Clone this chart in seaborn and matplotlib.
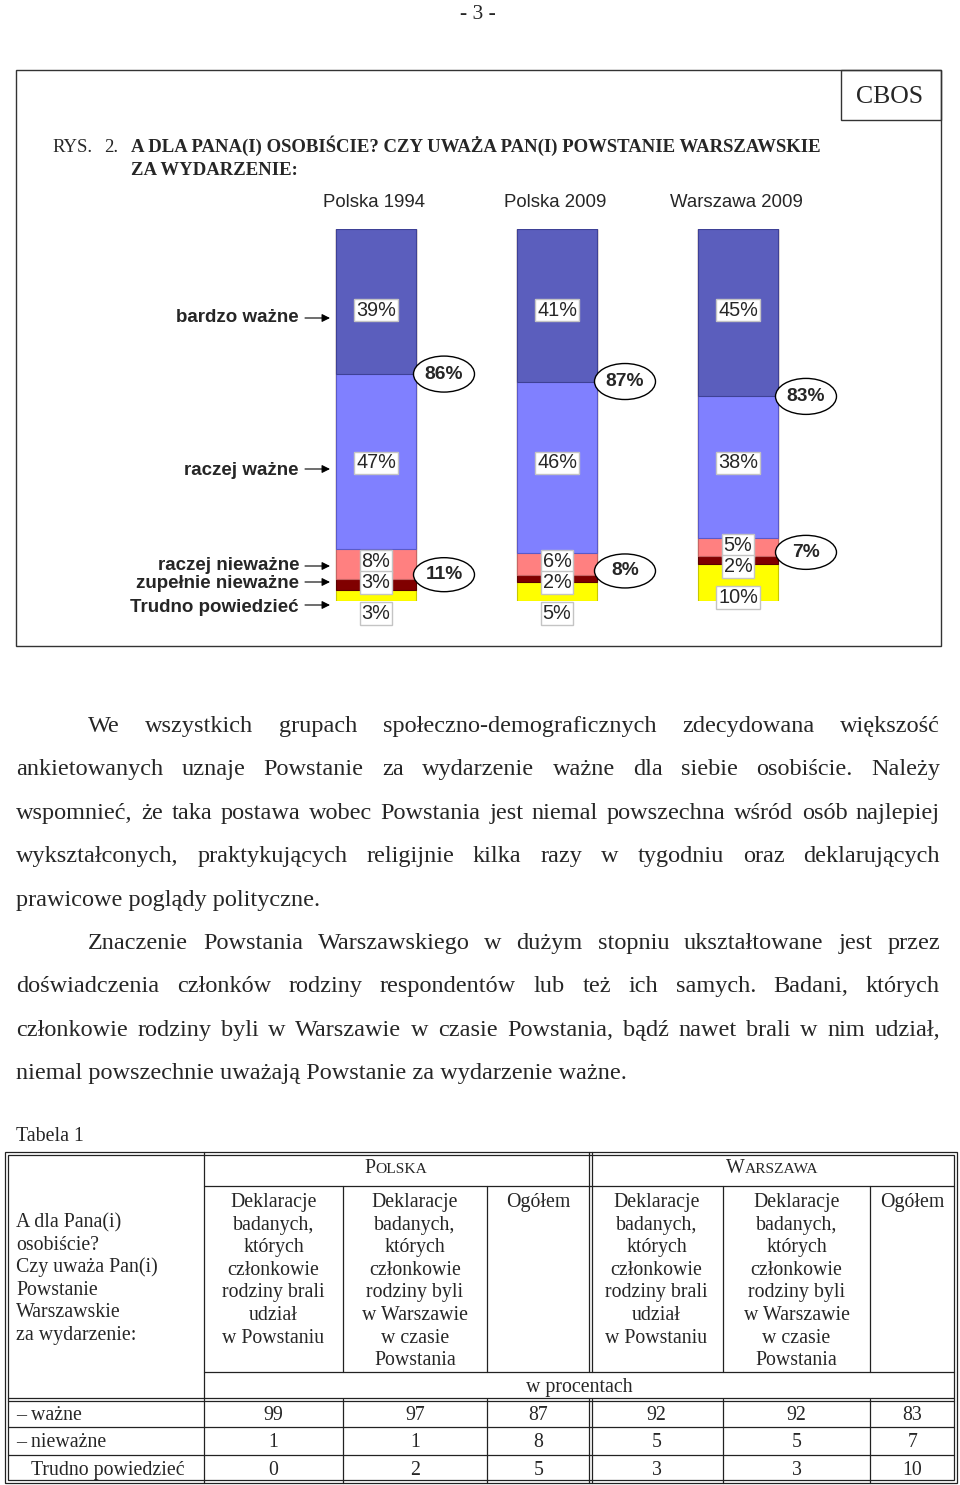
import numpy as np
import pandas as pd
import matplotlib
matplotlib.use("Agg")
import matplotlib.pyplot as plt
import seaborn as sns
from matplotlib.patches import Ellipse, Rectangle

# ---------------- data ----------------
groups = ["Polska 1994", "Polska 2009", "Warszawa 2009"]
answers = ["bardzo ważne", "raczej ważne", "raczej nieważne",
           "zupełnie nieważne", "Trudno powiedzieć"]
bardzo_wazne = [39, 41, 45]
raczej_wazne = [47, 46, 38]
raczej_niewazne = [8, 6, 5]
zupelnie_niewazne = [3, 2, 2]
trudno_powiedziec = [3, 5, 10]
wazne_razem = [86, 87, 83]
niewazne_razem = [11, 8, 7]

table_rows = ["– ważne", "– nieważne", "Trudno powiedzieć"]
polska_brali = [99, 1, 0]
polska_byli = [97, 1, 2]
polska_ogolem = [87, 8, 5]
warszawa_brali = [92, 5, 3]
warszawa_byli = [92, 5, 3]
warszawa_ogolem = [83, 7, 10]

colors = ["#5B5EBD", "#8080FF", "#FF8080", "#800000", "#FFFF00"]
edges = ["#3E4196", "#5A5AC8", "#C86464", "#5A0000", "#C8C800"]

# ---------------- figure ----------------
sns.set_style("white")
plt.rcParams["font.family"] = ["Liberation Sans", "DejaVu Sans"]
fig = plt.figure(figsize=(9.6, 14.85), dpi=100)

page = fig.add_axes([0, 0, 1, 1])
page.set_xlim(0, 960)
page.set_ylim(1485, 0)
page.axis("off")
page.set_zorder(2)
page.patch.set_alpha(0)

ax = fig.add_axes([285.5 / 960, 1 - 601 / 1485, 543 / 960, 372 / 1485])
ax.set_zorder(1)

series = [bardzo_wazne, raczej_wazne, raczej_niewazne, zupelnie_niewazne, trudno_powiedziec]
cum = np.cumsum(np.array(series), axis=0)
for k in range(len(series) - 1, -1, -1):
    df = pd.DataFrame({"grupa": groups, "wartosc": cum[k]})
    sns.barplot(data=df, x="grupa", y="wartosc", order=groups, color=colors[k],
                saturation=1, width=0.442, edgecolor=edges[k], linewidth=0.8,
                errorbar=None, ax=ax)
ax.set_xlim(-0.5, 2.5)
ax.set_ylim(100, 0)
ax.axis("off")


def to_page(x, y):
    d = ax.transData.transform((x, y))
    return page.transData.inverted().transform(d)


SANS = dict(family=["Liberation Sans", "DejaVu Sans"])
SERIF = dict(family=["Liberation Serif", "DejaVu Serif"])
renderer = fig.canvas.get_renderer()


def justified(line, x0, x1, yb, size, **kw):
    words = line.split(" ")
    ts = [page.text(x0, yb, w, ha="left", va="baseline", fontsize=size, **kw)
          for w in words]
    ws = [t.get_window_extent(renderer).width for t in ts]
    gap = (x1 - x0 - sum(ws)) / (len(words) - 1)
    x = x0
    for t, w in zip(ts, ws):
        t.set_x(x)
        x += w + gap


# ---------------- frame ----------------
page.add_patch(Rectangle((16, 70), 925, 576, fill=False, ec="#333333", lw=1.0))
page.add_patch(Rectangle((841, 70), 100, 50, fill=False, ec="#333333", lw=1.0))
page.text(890, 103, "CBOS", ha="center", va="baseline", fontsize=18.5, **SERIF)
page.text(478, 19, "- 3 -", ha="center", va="baseline", fontsize=15.5, **SERIF)

TT = 13.5
page.text(52, 152, "RYS.", ha="left", va="baseline", fontsize=TT, **SERIF)
page.text(118, 152, "2.", ha="right", va="baseline", fontsize=TT, **SERIF)
page.text(131, 152, "A DLA PANA(I) OSOBIŚCIE? CZY UWAŻA PAN(I) POWSTANIE WARSZAWSKIE",
          ha="left", va="baseline", fontsize=TT, fontweight="bold", **SERIF)
page.text(131, 175, "ZA WYDARZENIE:", ha="left", va="baseline", fontsize=TT,
          fontweight="bold", **SERIF)

# column headers
for i, g in enumerate(groups):
    xp, _ = to_page(i, 0)
    page.text(xp - 2, 207, g, ha="center", va="baseline", fontsize=13.4, **SANS)

# ---------------- value labels ----------------
VS = 14.3
box = dict(boxstyle="square,pad=0.1", fc="white", ec="#c4c4c4", lw=1)
for i in range(3):
    xp, _ = to_page(i, 0)
    page.text(xp, 310, f"{bardzo_wazne[i]}%", ha="center", va="center",
              fontsize=VS, bbox=box, **SANS)
    page.text(xp, 463, f"{raczej_wazne[i]}%", ha="center", va="center",
              fontsize=VS, bbox=box, **SANS)
    _, yp = to_page(i, cum[1][i] + raczej_niewazne[i] / 2)
    y_pink = yp - 2
    page.text(xp, y_pink, f"{raczej_niewazne[i]}%", ha="center", va="center",
              fontsize=VS, bbox=box, **SANS)
    page.text(xp, y_pink + 21, f"{zupelnie_niewazne[i]}%", ha="center", va="center",
              fontsize=VS, bbox=box, **SANS)
    page.text(xp, y_pink + 52, f"{trudno_powiedziec[i]}%", ha="center", va="center",
              fontsize=VS, bbox=box, **SANS)

    # ellipses with totals
    xr, yb = to_page(i + 0.221, bardzo_wazne[i])
    ex = xr + 28
    page.add_patch(Ellipse((ex, yb), 61, 36, fc="white", ec="black", lw=1.0))
    page.text(ex, yb, f"{wazne_razem[i]}%", ha="center", va="center",
              fontsize=13.8, fontweight="bold", **SANS)
    _, yn = to_page(i, cum[2][i])
    yn -= 4
    page.add_patch(Ellipse((ex, yn), 61, 34, fc="white", ec="black", lw=1.0))
    page.text(ex, yn, f"{niewazne_razem[i]}%", ha="center", va="center",
              fontsize=13.8, fontweight="bold", **SANS)

# ---------------- category labels with arrows ----------------
label_pos = [(322, 318), (475, 469), (570, 566), (588, 582), (612, 605)]
for name, (yb, ya) in zip(answers, label_pos):
    page.text(299, yb, name, ha="right", va="baseline", fontsize=13.5,
              fontweight="bold", **SANS)
    page.annotate("", xy=(330, ya), xytext=(305, ya),
                  arrowprops=dict(arrowstyle="-|>", lw=0.8, color="black",
                                  mutation_scale=12, shrinkA=0, shrinkB=0))

# ---------------- body text ----------------
BODY = 17.5
lines = [
    ("We wszystkich grupach społeczno-demograficznych zdecydowana większość", 88, True),
    ("ankietowanych uznaje Powstanie za wydarzenie ważne dla siebie osobiście. Należy", 16, True),
    ("wspomnieć, że taka postawa wobec Powstania jest niemal powszechna wśród osób najlepiej", 16, True),
    ("wykształconych, praktykujących religijnie kilka razy w tygodniu oraz deklarujących", 16, True),
    ("prawicowe poglądy polityczne.", 16, False),
    ("Znaczenie Powstania Warszawskiego w dużym stopniu ukształtowane jest przez", 88, True),
    ("doświadczenia członków rodziny respondentów lub też ich samych. Badani, których", 16, True),
    ("członkowie rodziny byli w Warszawie w czasie Powstania, bądź nawet brali w nim udział,", 16, True),
    ("niemal powszechnie uważają Powstanie za wydarzenie ważne.", 16, False),
]
for j, (line, x0, just) in enumerate(lines):
    yb = 732 + 43.4 * j
    if just:
        justified(line, x0, 940, yb, BODY, **SERIF)
    else:
        page.text(x0, yb, line, ha="left", va="baseline", fontsize=BODY, **SERIF)

# ---------------- table ----------------
TS = 14.3
page.text(16, 1141, "Tabela 1", ha="left", va="baseline", fontsize=TS, **SERIF)

L, R, T, B = 5, 957, 1152, 1483
lw = 0.9
lc = "#222222"
for d in (0, 3):
    page.add_patch(Rectangle((L + d, T + d), (R - L) - 2 * d, (B - T) - 2 * d,
                             fill=False, ec=lc, lw=lw))
page.plot([204, 204], [T, B], color=lc, lw=lw)
for d in (-1.5, 1.5):
    page.plot([590 + d, 590 + d], [T, 1372], color=lc, lw=lw)
    page.plot([590 + d, 590 + d], [1399, B], color=lc, lw=lw)
for xv in (343, 487, 723, 870):
    page.plot([xv, xv], [1186, 1372], color=lc, lw=lw)
    page.plot([xv, xv], [1399, B], color=lc, lw=lw)
page.plot([204, R - 3], [1186, 1186], color=lc, lw=lw)
page.plot([204, R - 3], [1372, 1372], color=lc, lw=lw)
for d in (-1.5, 1.5):
    page.plot([L + 3, R - 3], [1399 + d, 1399 + d], color=lc, lw=lw)
page.plot([L + 3, R - 3], [1427, 1427], color=lc, lw=lw)
page.plot([L + 3, R - 3], [1455, 1455], color=lc, lw=lw)


def smallcaps(xc, yb, parts):
    ts = [page.text(0, yb, s, fontsize=sz, ha="left", va="baseline", **SERIF)
          for s, sz in parts]
    ws = [t.get_window_extent(renderer).width for t in ts]
    x = xc - sum(ws) / 2
    for t, w in zip(ts, ws):
        t.set_x(x)
        x += w


smallcaps(396, 1173, [("P", TS), ("OLSKA", TS * 0.78)])
smallcaps(772, 1173, [("W", TS), ("ARSZAWA", TS * 0.78)])

first_col = ["A dla Pana(i)", "osobiście?", "Czy uważa Pan(i)", "Powstanie",
             "Warszawskie", "za wydarzenie:"]
for j, s in enumerate(first_col):
    page.text(16, 1227 + 22.6 * j, s, ha="left", va="baseline", fontsize=TS, **SERIF)

hdr_brali = ["Deklaracje", "badanych,", "których", "członkowie", "rodziny brali",
             "udział", "w Powstaniu"]
hdr_byli = ["Deklaracje", "badanych,", "których", "członkowie", "rodziny byli",
            "w Warszawie", "w czasie", "Powstania"]
headers = [hdr_brali, hdr_byli, ["Ogółem"], hdr_brali, hdr_byli, ["Ogółem"]]
bounds = [204, 343, 487, 590, 723, 870, 955]
centers = [(bounds[k] + bounds[k + 1]) / 2 for k in range(6)]
for c, hdr in zip(centers, headers):
    for j, s in enumerate(hdr):
        page.text(c, 1207 + 22.6 * j, s, ha="center", va="baseline", fontsize=TS, **SERIF)

page.text(579, 1392, "w procentach", ha="center", va="baseline", fontsize=TS, **SERIF)

cols = [polska_brali, polska_byli, polska_ogolem, warszawa_brali, warszawa_byli,
        warszawa_ogolem]
row_base = [1420, 1447, 1475]
row_x = [16, 16, 31]
for r, name in enumerate(table_rows):
    page.text(row_x[r], row_base[r], name, ha="left", va="baseline", fontsize=TS, **SERIF)
    for c, col in zip(centers, cols):
        page.text(c, row_base[r], str(col[r]), ha="center", va="baseline",
                  fontsize=TS, **SERIF)

fig.savefig("out.png", dpi=100)
